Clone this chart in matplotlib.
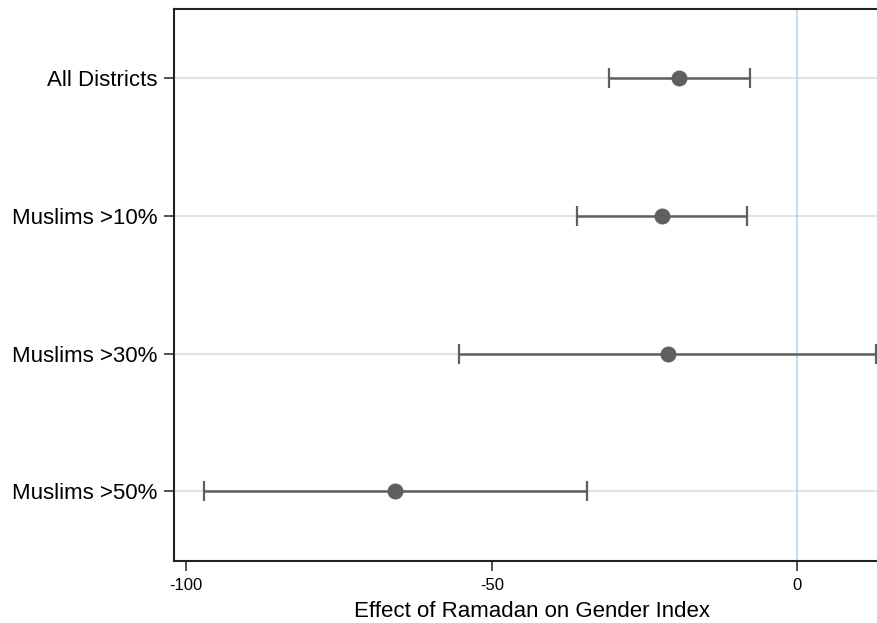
import matplotlib
matplotlib.use("Agg")
import matplotlib.pyplot as plt

# coefficient estimates with 95% CI bounds
labels = ["All Districts", "Muslims >10%", "Muslims >30%", "Muslims >50%"]
coef = [-19.4, -22.2, -21.2, -65.8]
ci_low = [-30.9, -36.1, -55.4, -97.1]
ci_high = [-7.7, -8.2, 12.9, -34.5]
xticks = [-100, -50, 0]

plt.rcParams["font.family"] = ["Liberation Sans", "DejaVu Sans"]

fig = plt.figure(figsize=(8.78, 6.23), dpi=100)
ax = fig.add_axes([174 / 878, 62 / 623, 1 - 174 / 878, 552 / 623])

ypos = list(range(1, len(labels) + 1))
for y in ypos:
    ax.axhline(y, color="#e3e3e3", lw=1.5, zorder=0)
ax.axvline(0, color="#b5d9e6", lw=1.2, zorder=1)

err = [[c - lo for c, lo in zip(coef, ci_low)], [hi - c for c, hi in zip(coef, ci_high)]]
ax.errorbar(coef, ypos, xerr=err, fmt="o", color="#5f5f5f", ecolor="#5f5f5f",
            markersize=10.5, elinewidth=1.8, capsize=7, capthick=1.6, zorder=3, clip_on=False)

ax.set_xlim(-102, 13.2)
ax.set_ylim(4.505, 0.5)
ax.set_yticks(ypos)
ax.set_yticklabels(labels, fontsize=16)
ax.set_xticks(xticks)
ax.set_xticklabels([str(t) for t in xticks], fontsize=12)
ax.set_xlabel("Effect of Ramadan on Gender Index", fontsize=16)
ax.xaxis.set_label_coords(0.508, -0.072)
ax.tick_params(axis="both", length=7, width=1.2, color="#333333")
ax.tick_params(axis="y", pad=5)
ax.tick_params(axis="x", pad=5)
for s in ["left", "bottom", "top"]:
    ax.spines[s].set_linewidth(1.5)
    ax.spines[s].set_color("#222222")
ax.spines["right"].set_visible(False)

fig.savefig("out.png", dpi=100)
